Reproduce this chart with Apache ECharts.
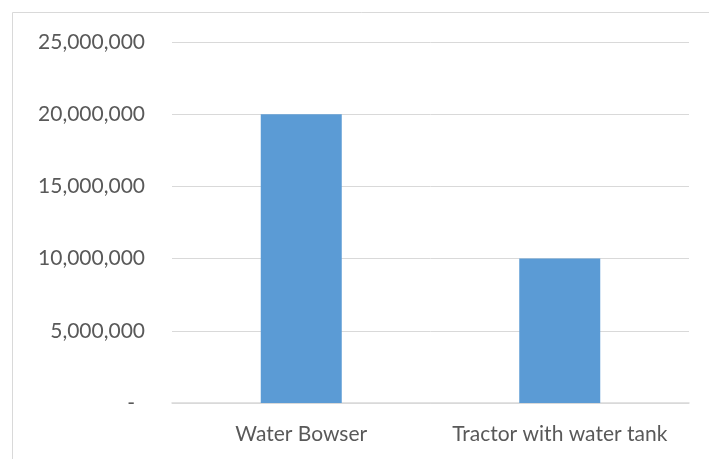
<!DOCTYPE html>
<html>
<head>
<meta charset="utf-8">
<script src="https://cdn.jsdelivr.net/npm/echarts@6/dist/echarts.min.js"></script>
<style>
  html, body { margin: 0; padding: 0; background: #fff; }
  #chart { width: 709px; height: 459px; }
</style>
</head>
<body>
<div id="chart"></div>
<script>
// Cost by water delivery option
const categories = ['Water Bowser', 'Tractor with water tank'];
const costValues = [20000000, 10000000];
const axisMax = 25000000;
const axisStep = 5000000;

const FONT = 'Lato';
const TEXT = '#595959';
const SIZE = 21;

const chart = echarts.init(document.getElementById('chart'), null, { renderer: 'canvas' });

chart.setOption({
  animation: false,
  backgroundColor: '#ffffff',
  graphic: [{
    type: 'rect',
    shape: { x: 12.5, y: 12.5, width: 720, height: 480 },
    style: { fill: 'none', stroke: '#d9d9d9', lineWidth: 1 },
    silent: true
  }],
  grid: { left: 172, right: 20, top: 42, bottom: 56, containLabel: false },
  xAxis: {
    type: 'category',
    data: categories,
    axisTick: { show: false },
    axisLine: { show: true, lineStyle: { color: '#d9d9d9', width: 1.5 } },
    axisLabel: { color: TEXT, fontFamily: FONT, fontSize: SIZE, margin: 21, interval: 0, hideOverlap: false }
  },
  yAxis: {
    type: 'value',
    min: 0,
    max: axisMax,
    interval: axisStep,
    axisLine: { show: false },
    axisTick: { show: false },
    splitLine: { lineStyle: { color: '#d9d9d9', width: 1 } },
    axisLabel: {
      color: TEXT,
      fontFamily: FONT,
      fontSize: SIZE,
      margin: 27,
      formatter: function (v) {
        return v === 0 ? '{z|-}' : v.toLocaleString('en-US');
      },
      rich: { z: { color: TEXT, fontFamily: FONT, fontSize: SIZE, padding: [0, 10, 0, 0] } }
    }
  },
  series: [{
    type: 'bar',
    data: costValues,
    barWidth: 81,
    itemStyle: { color: '#5b9bd5' }
  }]
});
</script>
</body>
</html>
